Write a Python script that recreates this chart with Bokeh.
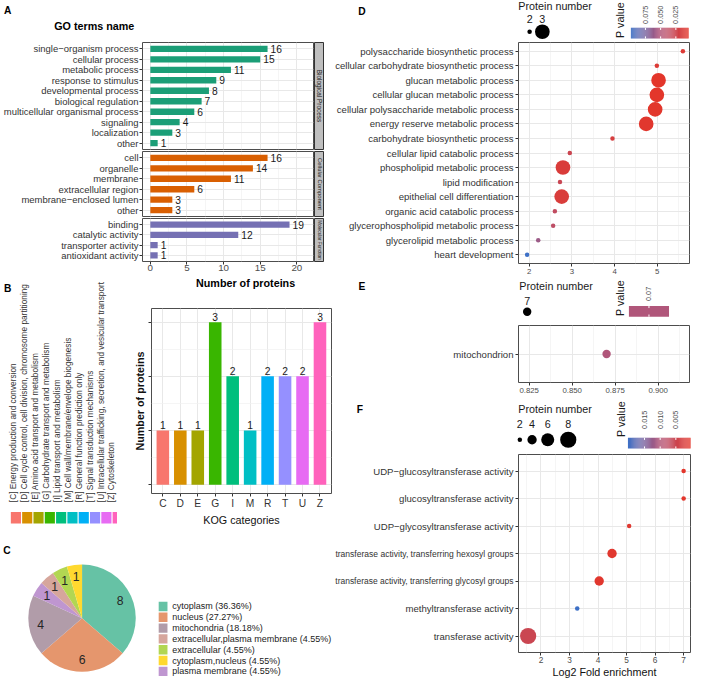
import math
import numpy as np
from bokeh.plotting import figure
from bokeh.layouts import row, column
from bokeh.models import Range1d, FixedTicker, Spacer, ColumnDataSource, PrintfTickFormatter
from bokeh.core.properties import value
from bokeh.transform import linear_cmap
from bokeh.embed import file_html
from bokeh.resources import INLINE

# ---------------- data ----------------
go_groups = ["Biological Process", "Cellular Component", "Molecular Function"]
go_bp_terms = ["single\u2212organism process", "cellular process", "metabolic process",
               "response to stimulus", "developmental process", "biological regulation",
               "multicellular organismal process", "signaling", "localization", "other"]
go_bp_counts = [16, 15, 11, 9, 8, 7, 6, 4, 3, 1]
go_cc_terms = ["cell", "organelle", "membrane", "extracellular region",
               "membrane\u2212enclosed lumen", "other"]
go_cc_counts = [16, 14, 11, 6, 3, 3]
go_mf_terms = ["binding", "catalytic activity", "transporter activity", "antioxidant activity"]
go_mf_counts = [19, 12, 1, 1]
go_colors = ["#1b9e77", "#d95f02", "#7570b3"]

kog_codes = ["C", "D", "E", "G", "I", "M", "R", "T", "U", "Z"]
kog_counts = [1, 1, 1, 3, 2, 1, 2, 2, 2, 3]
kog_names = ["[C] Energy production and conversion",
             "[D] Cell cycle control, cell division, chromosome partitioning",
             "[E] Amino acid transport and metabolism",
             "[G] Carbohydrate transport and metabolism",
             "[I] Lipid transport and metabolism",
             "[M] Cell wall/membrane/envelope biogenesis",
             "[R] General function prediction only",
             "[T] Signal transduction mechanisms",
             "[U] Intracellular trafficking, secretion, and vesicular transport",
             "[Z] Cytoskeleton"]
kog_colors = ["#F8766D", "#D89000", "#A3A500", "#39B600", "#00BF7D",
              "#00BFC4", "#00B0F6", "#9590FF", "#E76BF3", "#FF62BC"]

loc_names = ["cytoplasm", "nucleus", "mitochondria", "extracellular,plasma membrane",
             "extracellular", "cytoplasm,nucleus", "plasma membrane"]
loc_counts = [8, 6, 4, 1, 1, 1, 1]
loc_colors = ["#66c2a5", "#e5966d", "#b19ca9", "#d6a69c", "#b2d652", "#ffd92f", "#bf96d0"]
pie_order = [0, 1, 2, 6, 3, 4, 5]   # clockwise from 12 o'clock

d_terms = ["polysaccharide biosynthetic process", "cellular carbohydrate biosynthetic process",
           "glucan metabolic process", "cellular glucan metabolic process",
           "cellular polysaccharide metabolic process", "energy reserve metabolic process",
           "carbohydrate biosynthetic process", "cellular lipid catabolic process",
           "phospholipid metabolic process", "lipid modification",
           "epithelial cell differentiation", "organic acid catabolic process",
           "glycerophospholipid metabolic process", "glycerolipid metabolic process",
           "heart development"]
d_fold = [5.60, 4.99, 5.03, 4.99, 4.95, 4.74, 3.95, 2.95, 2.79, 2.72, 2.76, 2.60, 2.56, 2.21, 1.95]
d_count = [2, 2, 3, 3, 3, 3, 2, 2, 3, 2, 3, 2, 2, 2, 2]
d_p = [0.010, 0.011, 0.004, 0.004, 0.005, 0.006, 0.016, 0.026, 0.013, 0.028, 0.014,
       0.036, 0.039, 0.060, 0.099]
d_pticks = [0.075, 0.050, 0.025]

e_terms = ["mitochondrion"]
e_fold = [0.870]
e_count = [7]
e_p = [0.07]
e_xticks = [0.825, 0.850, 0.875, 0.900]

f_terms = ["UDP\u2212glucosyltransferase activity", "glucosyltransferase activity",
           "UDP\u2212glycosyltransferase activity",
           "transferase activity, transferring hexosyl groups",
           "transferase activity, transferring glycosyl groups",
           "methyltransferase activity", "transferase activity"]
f_fold = [7.00, 7.00, 5.09, 4.49, 4.04, 3.27, 1.55]
f_count = [2, 2, 2, 4, 4, 2, 8]
f_p = [0.0003, 0.0004, 0.0012, 0.0008, 0.0007, 0.0203, 0.0052]
f_size_breaks = [2, 4, 6, 8]
f_pticks = [0.015, 0.010, 0.005]

# ---------------- helpers ----------------
FONT = "Liberation Sans"
K = 692 / 708

# Arial/Liberation Sans advance widths (per 1000 em) for fitting long labels
_W = {c: 556 for c in "abdeghnopqu0123456789"}
_W.update({"c": 500, "k": 500, "s": 500, "v": 500, "x": 500, "y": 500, "z": 500,
           "f": 278, "t": 278, "i": 222, "j": 222, "l": 222, "r": 333, "m": 833, "w": 722,
           " ": 278, ",": 278, ".": 278, "\u2212": 584, "-": 333,
           "U": 722, "D": 722, "P": 667})


def text_em(s):
    return sum(_W.get(ch, 600) for ch in s) / 1000.0


def S(v):
    return int(round(v * K))


def H(a, b):
    return S(b) - S(a)


def fs(px):
    return "%.2fpx" % (px * K)


def hx(h):
    return [int(h[i:i + 2], 16) for i in (1, 3, 5)]


stops = ["#e3362b", "#b0567a", "#3d70c6"]
PAL = []
for i in range(256):
    t = i / 255 * 2
    j = min(int(t), 1)
    f = t - j
    a, b = hx(stops[j]), hx(stops[j + 1])
    PAL.append("#%02x%02x%02x" % tuple(int(round(a[k] + (b[k] - a[k]) * f)) for k in range(3)))


def pcolor(v, lo, hi):
    if hi == lo:
        return PAL[128]
    i = int(round((v - lo) / (hi - lo) * 255))
    return PAL[max(0, min(255, i))]


def rscale(v, vmin, vmax, rmin, rmax):
    if vmax == vmin:
        return (rmin + rmax) / 2
    f = (math.sqrt(v) - math.sqrt(vmin)) / (math.sqrt(vmax) - math.sqrt(vmin))
    return rmin + f * (rmax - rmin)


def mk(w, h, xr, yr, **kw):
    p = figure(width=w, height=h, x_range=xr, y_range=yr, output_backend="svg",
               toolbar_location=None, title=None, **kw)
    p.min_border_left = 0
    p.min_border_right = 0
    p.min_border_top = 0
    p.min_border_bottom = 0
    p.border_fill_color = "white"
    p.background_fill_color = "white"
    return p


def deco(x0, x1, y0, y1):
    p = mk(H(x0, x1), H(y0, y1), Range1d(x0, x1), Range1d(-y1, -y0),
           x_axis_type=None, y_axis_type=None)
    p.outline_line_color = None
    return p


def dtext(p, xs, ys, texts, size, align="left", base="middle", angle=0.0, bold=False,
          color="#1a1a1a"):
    p.text(x=list(xs), y=[-y for y in ys], text=list(texts), text_font=value(FONT),
           text_font_size=fs(size), text_align=align, text_baseline=base, angle=angle,
           text_color=color, text_font_style="bold" if bold else "normal")


def pfig(x0, x1, y0, y1, fl, fr, ft, fb, xr, yr, xaxis=True, yaxis=True):
    p = mk(H(x0, x1), H(y0, y1), xr, yr,
           x_axis_location="below" if xaxis else None,
           y_axis_location="left" if yaxis else None)
    p.min_border_left = H(x0, fl)
    p.min_border_right = H(fr, x1)
    p.min_border_top = H(y0, ft)
    p.min_border_bottom = H(fb, y1)
    p.outline_line_color = "#4d4d4d"
    p.outline_line_width = 1
    return p


def style_axis(ax, ticks, size, color="#4d4d4d", overrides=None, standoff=1):
    ax.ticker = FixedTicker(ticks=list(ticks))
    ax.major_label_text_font = FONT
    ax.major_label_text_font_size = fs(size)
    ax.major_label_text_color = color
    ax.major_label_standoff = standoff
    ax.major_tick_line_color = "#333333"
    ax.major_tick_out = 3
    ax.major_tick_in = 0
    ax.minor_tick_line_color = None
    ax.axis_line_color = None
    if overrides is not None:
        ax.major_label_overrides = overrides


def axis_title(ax, text, size, bold=False, standoff=2):
    ax.axis_label = text
    ax.axis_label_text_font = FONT
    ax.axis_label_text_font_size = fs(size)
    ax.axis_label_text_font_style = "bold" if bold else "normal"
    ax.axis_label_text_color = "#111111"
    ax.axis_label_standoff = standoff


def style_grid(g, ticks, minor=()):
    g.ticker = FixedTicker(ticks=list(ticks), minor_ticks=list(minor))
    g.grid_line_color = "#e8e8e8"
    g.grid_line_width = 1
    g.minor_grid_line_color = "#f0f0f0" if len(minor) else None
    g.minor_grid_line_width = 0.7


def labfig(x0, x1, y0, y1, ft, fb, yr, terms, ypos, base_size=9.8):
    p = mk(H(x0, x1), H(y0, y1), Range1d(x0, x1), yr, x_axis_type=None, y_axis_type=None)
    p.min_border_top = H(y0, ft)
    p.min_border_bottom = H(fb, y1)
    p.outline_line_color = None
    avail = (x1 - 1) - x0 - 2
    sizes = [fs(min(base_size, avail / text_em(t))) for t in terms]
    src = ColumnDataSource(dict(x=[x1 - 1] * len(terms), y=ypos, t=terms, fsz=sizes))
    p.text(x="x", y="y", text="t", text_font_size="fsz", source=src, text_align="right",
           text_baseline="middle", text_font=value(FONT), text_color="#333333")
    return p


def colorbar(p, x0, x1, y0, y1, lo, hi, ticks, labels, lab_y):
    nseg = 60
    w = (x1 - x0) / nseg
    lefts = [x0 + i * w for i in range(nseg)]
    cols = [pcolor(hi - (i + 0.5) / nseg * (hi - lo), lo, hi) for i in range(nseg)]
    p.quad(left=lefts, right=[l + w + 0.05 for l in lefts], top=-y0, bottom=-y1,
           fill_color=cols, line_color=None)
    tx = [x0 + (hi - t) / (hi - lo) * (x1 - x0) for t in ticks]
    p.segment(x0=tx, x1=tx, y0=[-y0] * len(tx), y1=[-(y0 + 2.2)] * len(tx),
              line_color="white", line_width=1)
    p.segment(x0=tx, x1=tx, y0=[-y1] * len(tx), y1=[-(y1 - 2.2)] * len(tx),
              line_color="white", line_width=1)
    dtext(p, tx, [lab_y] * len(tx), labels, 7.5, align="left", angle=math.pi / 2,
          color="#4d4d4d")


# ---------------- panel A ----------------
A_head = deco(0, 340, 0, 42)
dtext(A_head, [7.5], [10], ["A"], 10.5, align="center", bold=True, color="black")
dtext(A_head, [55], [26], ["GO terms name"], 11, bold=True, color="black")

xr_a = Range1d(-1.07, 22.27)
facet_specs = [
    (go_bp_terms, go_bp_counts, go_colors[0], go_groups[0], 42, 153, 43, 152, 6.6),
    (go_cc_terms, go_cc_counts, go_colors[1], go_groups[1], 153, 222, 154, 221, 6.0),
    (go_mf_terms, go_mf_counts, go_colors[2], go_groups[2], 222, 282, 223, 267, 4.8),
]
a_rows = []
for i, (terms, counts, col, grp, y0, y1, ft, fb, sfs) in enumerate(facet_specs):
    last = i == len(facet_specs) - 1
    n = len(terms)
    ypos = list(range(n, 0, -1))
    p = pfig(0, 321, y0, y1, 145, 320, ft, fb, xr_a, Range1d(0.4, n + 0.6), xaxis=last)
    src = ColumnDataSource(dict(y=ypos, c=counts, t=[str(c) for c in counts]))
    p.hbar(y="y", left=0, right="c", height=0.6, source=src, fill_color=col, line_color=None)
    p.text(x="c", y="y", text="t", source=src, x_offset=3, text_font=value(FONT),
           text_font_size=fs(10.5), text_baseline="middle", text_color="#1a1a1a")
    style_axis(p.yaxis[0], ypos, 9.7, color="#333333",
               overrides={y: t for y, t in zip(ypos, terms)}, standoff=1)
    style_grid(p.ygrid[0], ypos)
    style_grid(p.xgrid[0], [0, 5, 10, 15, 20], [2.5, 7.5, 12.5, 17.5])
    if last:
        style_axis(p.xaxis[0], [0, 5, 10, 15, 20], 10, color="#4d4d4d", standoff=0)
    s = mk(H(321, 331), H(y0, y1), Range1d(0, 1), Range1d(0, 1),
           x_axis_type=None, y_axis_type=None)
    s.min_border_top = H(y0, ft)
    s.min_border_bottom = H(fb, y1)
    s.background_fill_color = "#bfbfbf"
    s.outline_line_color = "#333333"
    s.text(x=[0.5], y=[0.5], text=[grp], angle=-math.pi / 2, text_align="center",
           text_baseline="middle", text_font=value(FONT), text_font_size=fs(sfs),
           text_color="#1a1a1a")
    a_rows.append(row(p, s, Spacer(width=H(331, 340), height=H(y0, y1))))

A_title = deco(120, 340, 282, 300)
dtext(A_title, [235], [288.5], ["Number of proteins"], 11, align="center", bold=True,
      color="black")

# ---------------- panel B ----------------
nk = len(kog_codes)
B_deco = deco(0, 120, 282, 540)
dtext(B_deco, [7.5], [294], ["B"], 10.5, align="center", bold=True, color="black")
kx = [13 + 11.2 * i for i in range(nk)]
dtext(B_deco, kx, [513] * nk, kog_names, 8.5, align="left", angle=math.pi / 2,
      color="#333333")
sq_left = [10 + 11.6 * i for i in range(nk)]
B_deco.quad(left=[l + 0.6 for l in sq_left], right=[l + 11.0 for l in sq_left],
            top=[-523] * nk, bottom=[-535] * nk, fill_color=kog_colors, line_color=None)

B_fig = pfig(120, 340, 300, 540, 155, 339, 315, 504, Range1d(0.35, 10.66),
             Range1d(-0.163, 3.253))
kxs = list(range(1, nk + 1))
srcb = ColumnDataSource(dict(x=kxs, top=kog_counts, color=kog_colors,
                             ty=[c + 0.03 for c in kog_counts],
                             t=[str(c) for c in kog_counts]))
B_fig.vbar(x="x", top="top", bottom=0, width=0.72, fill_color="color", line_color=None,
           source=srcb)
B_fig.text(x="x", y="ty", text="t", source=srcb, text_align="center",
           text_baseline="bottom", text_font=value(FONT), text_font_size=fs(10.5),
           text_color="#1a1a1a")
style_axis(B_fig.xaxis[0], kxs, 10.5, color="#333333",
           overrides={x: c for x, c in zip(kxs, kog_codes)}, standoff=1)
axis_title(B_fig.xaxis[0], "KOG categories", 11, standoff=2)
style_axis(B_fig.yaxis[0], [0, 1, 2, 3], 10, overrides={0: "", 1: "", 2: "", 3: ""},
           standoff=0)
axis_title(B_fig.yaxis[0], "Number of proteins", 11, bold=True, standoff=3)
style_grid(B_fig.ygrid[0], [0, 1, 2, 3], [0.5, 1.5, 2.5])
style_grid(B_fig.xgrid[0], kxs)

# ---------------- panel C ----------------
C_deco = deco(0, 340, 540, 696)
dtext(C_deco, [6.5], [562.5], ["C"], 10.5, align="center", bold=True, color="black")
total = sum(loc_counts)
cx, cy, R = 83.5, 632.0, 55.0
cum = 0
for idx in pie_order:
    c = loc_counts[idx]
    a0 = math.pi / 2 - 2 * math.pi * cum / total
    a1 = math.pi / 2 - 2 * math.pi * (cum + c) / total
    C_deco.wedge(x=[cx], y=[-cy], radius=R, start_angle=a0, end_angle=a1,
                 direction="clock", fill_color=loc_colors[idx], line_color=None)
    am = (a0 + a1) / 2
    dtext(C_deco, [cx + 0.78 * R * math.cos(am)], [cy - 0.78 * R * math.sin(am)], [str(c)],
          12.5, align="center", color="#262626")
    cum += c
ly = [620 + 11.1 * i for i in range(len(loc_names))]
C_deco.quad(left=162, right=171, top=[-(y - 4.8) for y in ly],
            bottom=[-(y + 4.8) for y in ly], fill_color=loc_colors, line_color=None)
loc_labels = ["%s (%.2f%%)" % (nm, 100.0 * c / total) for nm, c in zip(loc_names, loc_counts)]
dtext(C_deco, [176] * len(ly), ly, loc_labels, 9.2, color="#1a1a1a")

# ---------------- panel D ----------------
d_lo, d_hi = min(d_p), max(d_p)
d_cmin, d_cmax = min(d_count), max(d_count)
D_head = deco(340, 708, 0, 41)
dtext(D_head, [370], [11], ["D"], 10.5, align="center", bold=True, color="black")
dtext(D_head, [530], [6], ["Protein number"], 11)
d_breaks = sorted(set(d_count))
d_leg_x = [541.5, 554.5]
dtext(D_head, d_leg_x, [18.5] * len(d_breaks), [str(b) for b in d_breaks], 11, align="center")
D_head.scatter(x=d_leg_x, y=[-32] * len(d_breaks),
               size=[2 * rscale(b, d_cmin, d_cmax, 2.3, 7.5) * K for b in d_breaks],
               fill_color="black", line_color=None)
dtext(D_head, [634], [20], ["P value"], 11, align="center", angle=math.pi / 2)
colorbar(D_head, 645, 704, 28, 39, d_lo, d_hi, d_pticks, ["%.3f" % t for t in d_pticks], 24)

nd = len(d_terms)
d_y = list(range(nd, 0, -1))
yr_d = Range1d(0.4, nd + 0.6)
D_lab = labfig(340, 526, 41, 285, 43, 269, yr_d, d_terms, d_y)
D_fig = pfig(526, 708, 41, 285, 530, 705, 43, 269, Range1d(1.748, 5.755), yr_d)
srcd = ColumnDataSource(dict(x=d_fold, y=d_y, p=d_p,
                             s=[2 * rscale(c, d_cmin, d_cmax, 2.3, 7.5) * K for c in d_count]))
D_fig.scatter(x="x", y="y", size="s", source=srcd,
              fill_color=linear_cmap("p", PAL, d_lo, d_hi), line_color=None)
style_axis(D_fig.yaxis[0], d_y, 8, overrides={y: "" for y in d_y}, standoff=0)
style_axis(D_fig.xaxis[0], [2, 3, 4, 5], 8, color="#4d4d4d", standoff=2)
style_grid(D_fig.xgrid[0], [2, 3, 4, 5], [1.5, 2.5, 3.5, 4.5, 5.5])
style_grid(D_fig.ygrid[0], d_y)

# ---------------- panel E ----------------
E_head = deco(340, 708, 285, 331)
dtext(E_head, [370], [292], ["E"], 10.5, align="center", bold=True, color="black")
dtext(E_head, [531], [292], ["Protein number"], 11)
e_r = rscale(e_count[0], min(e_count), max(e_count), 2.3, 6.3)
dtext(E_head, [539], [307], [str(e_count[0])], 11, align="center")
E_head.scatter(x=[539], y=[-318], size=2 * e_r * K, fill_color="black", line_color=None)
dtext(E_head, [634], [304], ["P value"], 11, align="center", angle=math.pi / 2)
e_col = pcolor(e_p[0], min(e_p), max(e_p))
E_head.quad(left=[643], right=[684], top=[-312], bottom=[-323], fill_color=e_col,
            line_color=None)
E_head.segment(x0=[663.5, 663.5], x1=[663.5, 663.5], y0=[-312, -323], y1=[-314.2, -320.8],
               line_color="white", line_width=1)
dtext(E_head, [663.5], [307], ["%.2f" % e_p[0]], 7.5, align="left", angle=math.pi / 2,
      color="#4d4d4d")

yr_e = Range1d(0.4, len(e_terms) + 0.6)
e_y = list(range(len(e_terms), 0, -1))
E_lab = labfig(340, 526, 331, 406, 333, 391, yr_e, e_terms, e_y)
E_fig = pfig(526, 708, 331, 406, 530, 705, 333, 391, Range1d(0.8188, 0.9182), yr_e)
srce = ColumnDataSource(dict(x=e_fold, y=e_y, c=[e_col] * len(e_fold)))
E_fig.scatter(x="x", y="y", size=2 * e_r * K, source=srce, fill_color="c", line_color=None)
style_axis(E_fig.yaxis[0], e_y, 8, overrides={y: "" for y in e_y}, standoff=0)
style_axis(E_fig.xaxis[0], e_xticks, 8, color="#4d4d4d", standoff=2)
E_fig.xaxis[0].formatter = PrintfTickFormatter(format="%.3f")
style_grid(E_fig.xgrid[0], e_xticks, [0.8375, 0.8625, 0.8875, 0.9125])
style_grid(E_fig.ygrid[0], e_y)

# ---------------- panel F ----------------
f_lo, f_hi = min(f_p), max(f_p)
f_cmin, f_cmax = min(f_size_breaks), max(f_size_breaks)
F_head = deco(340, 708, 406, 463)
dtext(F_head, [368], [418], ["F"], 10.5, align="center", bold=True, color="black")
dtext(F_head, [530], [418], ["Protein number"], 11)
f_leg_x = [531.5, 544, 560, 581]
dtext(F_head, f_leg_x, [433] * len(f_size_breaks), [str(b) for b in f_size_breaks], 11,
      align="center")
F_head.scatter(x=f_leg_x, y=[-449] * len(f_size_breaks),
               size=[2 * rscale(b, f_cmin, f_cmax, 2.3, 8.3) * K for b in f_size_breaks],
               fill_color="black", line_color=None)
dtext(F_head, [635], [428], ["P value"], 11, align="center", angle=math.pi / 2)
colorbar(F_head, 642, 706, 447, 458, f_lo, f_hi, f_pticks, ["%.3f" % t for t in f_pticks], 438)

nf = len(f_terms)
f_y = list(range(nf, 0, -1))
yr_f = Range1d(0.4, nf + 0.6)
F_lab = labfig(340, 526, 463, 696, 465, 668, yr_f, f_terms, f_y)
F_fig = pfig(526, 708, 463, 696, 530, 706, 465, 668, Range1d(1.212, 7.24), yr_f)
srcf = ColumnDataSource(dict(x=f_fold, y=f_y, p=f_p,
                             s=[2 * rscale(c, f_cmin, f_cmax, 2.3, 8.3) * K for c in f_count]))
F_fig.scatter(x="x", y="y", size="s", source=srcf,
              fill_color=linear_cmap("p", PAL, f_lo, f_hi), line_color=None)
style_axis(F_fig.yaxis[0], f_y, 8, overrides={y: "" for y in f_y}, standoff=0)
style_axis(F_fig.xaxis[0], [2, 3, 4, 5, 6, 7], 8.5, color="#4d4d4d", standoff=1)
axis_title(F_fig.xaxis[0], "Log2 Fold enrichment", 11, standoff=0)
style_grid(F_fig.xgrid[0], [2, 3, 4, 5, 6, 7], [1.5, 2.5, 3.5, 4.5, 5.5, 6.5])
style_grid(F_fig.ygrid[0], f_y)

# ---------------- layout ----------------
left = column(A_head, a_rows[0], a_rows[1], a_rows[2],
              row(B_deco, column(A_title, B_fig)), C_deco)
right = column(D_head, row(D_lab, D_fig), E_head, row(E_lab, E_fig),
               F_head, row(F_lab, F_fig))
root = row(left, right)

open("out.html", "w").write(file_html(root, INLINE))
